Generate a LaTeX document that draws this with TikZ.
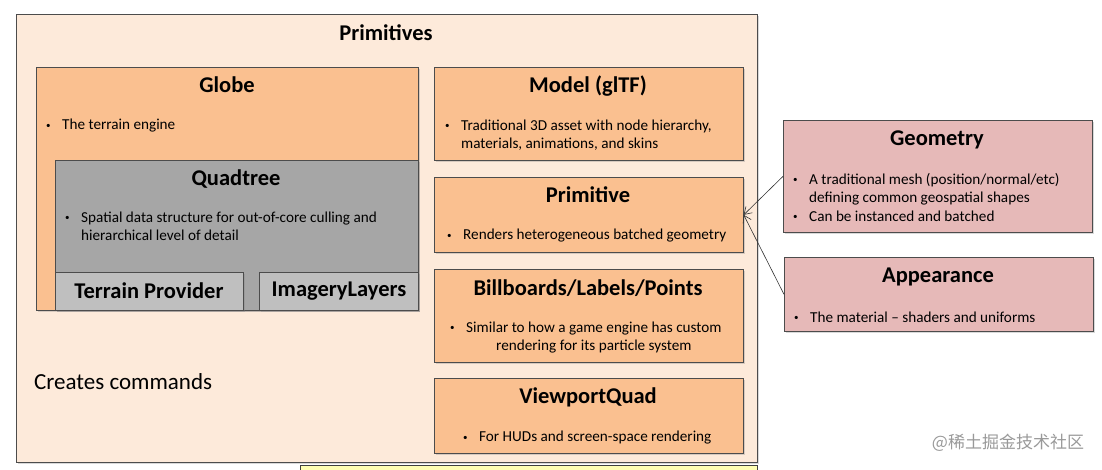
\documentclass[tikz,border=0pt]{standalone}
\usepackage{fontspec}
\setmainfont{Carlito}
\newfontfamily\cjkfont{Noto Sans CJK SC}
\usetikzlibrary{shadows,arrows.meta}

\definecolor{outerfill}{HTML}{FDEADA}
\definecolor{boxorange}{HTML}{FAC090}
\definecolor{quadgray}{HTML}{A6A6A6}
\definecolor{subgray}{HTML}{BFBFBF}
\definecolor{boxpink}{HTML}{E6B9B8}
\definecolor{noteyellow}{HTML}{FFFFB3}

% bullet with a fixed indent
\newcommand{\bl}{\makebox[16pt][l]{\raisebox{0.25ex}{\fontsize{9}{9}\selectfont\textbullet}}}

\begin{document}
\begin{tikzpicture}[x=1pt, y=-1pt,
    box/.style={draw=black!70, line width=0.7pt, anchor=north west, inner sep=0pt,
        drop shadow={shadow xshift=1.5pt, shadow yshift=-1.5pt, opacity=0.3}},
    obox/.style={box, fill=boxorange},
    pbox/.style={box, fill=boxpink},
    ttl/.style={font=\fontsize{22.5}{24}\selectfont\bfseries, inner sep=0pt},
    txt/.style={font=\fontsize{15.2}{18.5}\selectfont, anchor=west, inner sep=0pt},
    arr/.style={-{Straight Barb[length=7pt,width=9pt]}, line width=0.6pt, draw=black!80}]
    \useasboundingbox (0,0) rectangle (1102,470);

    % Outer container
    \node[box, fill=outerfill, minimum width=741pt, minimum height=448pt] (prims) at (16,14) {};
    \node[ttl] (primsT) at (386,33) {Primitives};

    % Globe with its quadtree
    \node[obox, minimum width=382pt, minimum height=243pt] (globe) at (36,67) {};
    \node[ttl] (globeT) at (227,85) {Globe};
    \node[txt] (globeB) at (46,126) {\bl The terrain engine};

    \node[box, fill=quadgray, minimum width=363pt, minimum height=150pt] (quad) at (55,160) {};
    \node[ttl] (quadT) at (236,179) {Quadtree};
    \node[txt] (quadB) at (65,228) {\begin{tabular}{@{}l@{}l@{}}
        \bl & Spatial data structure for out-of-core culling and\\
            & hierarchical level of detail\end{tabular}};

    \node[box, fill=subgray, minimum width=188pt, minimum height=38pt] (terrain) at (55,272) {};
    \node[ttl] (terrainT) at (149,291) {Terrain Provider};
    \node[box, fill=subgray, minimum width=159pt, minimum height=38pt] (imagery) at (259,272) {};
    \node[ttl] (imageryT) at (339,291) {ImageryLayers};

    \node[txt, font=\fontsize{23}{26}\selectfont] (cmds) at (34,382) {Creates commands};

    % Right column of primitive types
    \node[obox, minimum width=309pt, minimum height=93pt] (model) at (434,67) {};
    \node[ttl] (modelT) at (588,86) {Model (glTF)};
    \node[txt] (modelB) at (445,136) {\begin{tabular}{@{}l@{}l@{}}
        \bl & Traditional 3D asset with node hierarchy,\\
            & materials, animations, and skins\end{tabular}};

    \node[obox, minimum width=309pt, minimum height=75pt] (primitive) at (434,177) {};
    \node[ttl] (primitiveT) at (588,195) {Primitive};
    \node[txt] (primitiveB) at (447,236) {\bl Renders heterogeneous batched geometry};

    \node[obox, minimum width=309pt, minimum height=93pt] (bill) at (434,269) {};
    \node[ttl] (billT) at (588,288) {Billboards/Labels/Points};
    \node[txt] (billB) at (450,338) {\begin{tabular}{@{}l@{}c@{}}
        \bl & Similar to how a game engine has custom\\
            & rendering for its particle system\end{tabular}};

    \node[obox, minimum width=309pt, minimum height=75pt] (vquad) at (434,378) {};
    \node[ttl] (vquadT) at (588,397) {ViewportQuad};
    \node[txt] (vquadB) at (463,438) {\bl For HUDs and screen-space rendering};

    % Inputs of a Primitive
    \node[pbox, minimum width=309pt, minimum height=112pt] (geom) at (783,120) {};
    \node[ttl] (geomT) at (937,140) {Geometry};
    \node[txt] (geomB) at (793,199) {\begin{tabular}{@{}l@{}l@{}}
        \bl & A traditional mesh (position/normal/etc)\\
            & defining common geospatial shapes\\
        \bl & Can be instanced and batched\end{tabular}};

    \node[pbox, minimum width=309pt, minimum height=74pt] (appear) at (784,257) {};
    \node[ttl] (appearT) at (938,277) {Appearance};
    \node[txt] (appearB) at (794,317) {\bl The material -- shaders and uniforms};

    \draw[arr] (geom.west) -- (primitive.east);
    \draw[arr] (appear.west) -- (primitive.east);

    % Next slide box peeking in at the bottom
    \filldraw[fill=noteyellow, draw=black!75, line width=0.7pt] (300,476) -- (300,465) -- (757,465) -- (757,476);

    \node[font=\fontsize{17}{20}\selectfont\cjkfont, text=black!40, inner sep=0pt] (mark) at (1008,443) {@稀土掘金技术社区};
\end{tikzpicture}
\end{document}
